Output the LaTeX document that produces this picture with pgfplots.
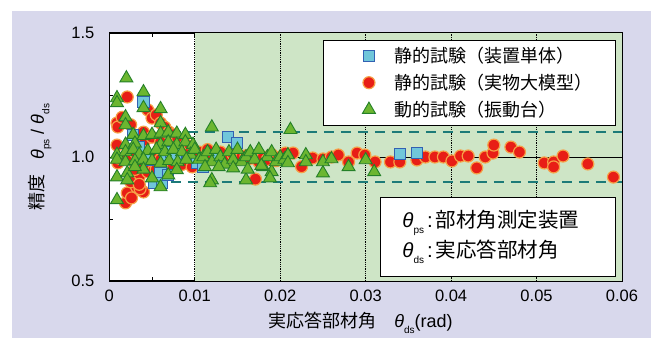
\documentclass[border=0pt]{standalone}
\usepackage{pgfplots}
\pgfplotsset{compat=1.18}
\usepackage{fontspec}
\setmainfont{Liberation Sans}
\newfontfamily\cjk{Noto Sans CJK JP}
\definecolor{bglav}{RGB}{216,216,236}
\definecolor{zonegreen}{RGB}{206,229,198}
\definecolor{dashteal}{RGB}{28,122,120}
\definecolor{redfill}{RGB}{232,30,22}
\definecolor{rededge}{RGB}{246,160,70}
\definecolor{sqfill}{RGB}{112,198,218}
\definecolor{sqedge}{RGB}{50,96,178}
\definecolor{trifill}{RGB}{108,182,48}
\definecolor{triedge}{RGB}{36,128,40}
\newcommand\sub[1]{\raisebox{-0.3em}{\fontsize{10}{10}\selectfont #1}}
\pgfplotsset{
 redpt/.style={only marks, mark=*, mark size=6pt, mark options={fill=redfill, draw=rededge, line width=1.2pt}},
 sqpt/.style={only marks, mark=square*, mark size=5.6pt, mark options={fill=sqfill, draw=sqedge, line width=1pt}},
 tript/.style={only marks, mark=triangle*, mark size=7.5pt, mark options={fill=trifill, draw=triedge, line width=0.9pt}},
}
\pgfplotstableread{
x y
0.0009 1.137
0.0010 1.121
0.0009 1.048
0.0010 0.976
0.0012 0.995
0.0021 1.242
0.0019 0.815
0.0021 0.855
0.0026 0.835
0.0030 0.935
0.0032 0.879
0.0040 0.859
0.0036 0.872
0.0042 1.069
0.0045 1.190
0.0050 1.157
0.0055 1.170
0.0060 1.137
0.0065 1.120
0.0070 1.100
0.0075 1.090
0.0080 1.075
0.0085 1.060
0.0090 1.050
0.0095 1.040
0.0035 0.920
0.0045 0.940
0.0055 0.950
0.0065 0.960
0.0075 0.965
0.0085 0.970
0.0097 0.960
0.0020 1.000
0.0030 1.020
0.0015 1.160
0.0025 1.130
0.0040 1.100
0.0050 1.080
0.0060 1.060
0.0030 0.950
0.0040 0.970
0.0050 1.000
0.0060 0.990
0.0070 1.000
0.0080 1.020
0.0090 1.010
0.0025 0.900
0.0035 0.890
0.0105 1.020
0.0110 1.000
0.0115 1.030
0.0120 0.990
0.0125 1.010
0.0130 1.020
0.0135 0.985
0.0140 1.000
0.0145 1.010
0.0150 0.990
0.0155 1.000
0.0160 1.005
0.0165 0.995
0.0171 0.911
0.0175 0.980
0.0180 1.000
0.0185 0.990
0.0190 1.010
0.0195 0.985
0.0200 1.000
0.0206 1.016
0.0215 1.016
0.0225 0.961
0.0238 0.996
0.0250 0.992
0.0260 1.000
0.0268 1.008
0.0280 0.980
0.0290 1.016
0.0299 1.008
0.0311 0.980
0.0329 0.980
0.0340 0.980
0.0360 0.988
0.0370 1.000
0.0381 1.000
0.0391 1.000
0.0401 0.984
0.0411 1.004
0.0420 1.004
0.0430 0.956
0.0440 1.000
0.0449 1.016
0.0450 1.048
0.0470 1.040
0.0480 1.020
0.0509 0.976
0.0520 0.980
0.0520 0.960
0.0531 1.004
0.0560 0.972
0.0590 0.919
}\redtab
\pgfplotstableread{
x y
0.0040 1.222
0.0028 1.089
0.0035 1.040
0.0045 0.990
0.0052 0.895
0.0060 0.935
0.0062 0.895
0.0069 0.927
0.0065 1.010
0.0072 1.020
0.0079 1.016
0.0078 1.000
0.0103 0.976
0.0110 0.960
0.0125 0.995
0.0139 1.080
0.0149 1.056
0.0340 1.012
0.0360 1.016
}\sqtab
\pgfplotstableread{
x y
0.0020 1.318
0.0040 1.262
0.0040 1.198
0.0009 1.238
0.0009 1.218
0.0060 1.194
0.0019 1.161
0.0019 1.129
0.0060 1.137
0.0028 1.090
0.0040 1.085
0.0050 1.090
0.0060 1.095
0.0069 1.100
0.0079 1.095
0.0089 1.090
0.0019 1.050
0.0030 1.055
0.0060 1.050
0.0069 1.060
0.0079 1.050
0.0089 1.060
0.0098 1.050
0.0009 1.010
0.0019 1.020
0.0028 1.030
0.0035 1.010
0.0045 1.025
0.0055 1.030
0.0065 1.020
0.0075 1.030
0.0085 1.020
0.0095 1.010
0.0009 0.990
0.0019 0.980
0.0030 0.985
0.0040 0.990
0.0050 0.985
0.0060 0.975
0.0070 0.985
0.0080 0.980
0.0090 0.990
0.0009 0.919
0.0021 0.935
0.0021 0.907
0.0009 0.827
0.0050 0.915
0.0060 0.879
0.0069 0.927
0.0079 0.948
0.0040 0.950
0.0030 0.960
0.0120 1.120
0.0120 0.907
0.0118 0.895
0.0160 0.907
0.0190 0.940
0.0188 0.915
0.0212 1.110
0.0100 1.030
0.0105 0.990
0.0110 1.000
0.0115 1.020
0.0120 0.980
0.0125 1.030
0.0130 1.000
0.0135 0.970
0.0140 1.020
0.0145 0.990
0.0150 1.030
0.0155 0.980
0.0160 1.000
0.0165 1.020
0.0170 0.990
0.0175 1.030
0.0180 0.960
0.0185 1.000
0.0190 1.020
0.0195 0.980
0.0200 1.000
0.0205 0.990
0.0112 0.960
0.0128 0.960
0.0145 0.955
0.0162 0.950
0.0178 0.965
0.0209 1.008
0.0209 0.976
0.0230 1.008
0.0230 0.980
0.0250 0.980
0.0250 0.935
0.0260 0.992
0.0280 0.960
0.0300 0.988
0.0310 0.940
}\tritab
\begin{document}
\begin{tikzpicture}
\fill[white] (-109.3pt,-57pt) rectangle (541.7pt,281pt);
\useasboundingbox (-109.3pt,-57pt) rectangle (541.7pt,281pt);
\fill[bglav] (-97.3pt,-57pt) rectangle (541.7pt,270pt);
\begin{axis}[
 at={(0,0)}, anchor=south west,
 scale only axis, width=512.7pt, height=248pt,
 xmin=0, xmax=0.06, ymin=0.5, ymax=1.5,
 scaled x ticks=false, scaled y ticks=false,
 xtick={0,0.01,0.02,0.03,0.04,0.05,0.06},
 xticklabels={0,0.01,0.02,0.03,0.04,0.05,0.06},
 ytick={0.5,1,1.5}, yticklabels={0.5,1.0,1.5},
 minor x tick num=1, minor y tick num=1,
 tick align=inside, major tick length=4pt, minor tick length=4pt,
 tick style={black, line width=0.8pt},
 axis line style={line width=1.2pt},
 axis background/.style={fill=white},
 ticklabel style={font=\fontsize{16.5}{18}\selectfont},
 xticklabel style={yshift=-5.5pt},
 yticklabel style={xshift=-11.5pt},
 xlabel={{\cjk 実応答部材角}\hspace{1em}\textit{θ}\sub{ds}(rad)},
 xlabel style={at={(axis description cs:0.49,-0.169)}, anchor=center, font=\fontsize{18}{20}\selectfont},
 ylabel={{\cjk 精度}\hspace{0.8em}\textit{θ}\sub{ps} / \textit{θ}\sub{ds}},
 ylabel style={at={(axis description cs:-0.135,0.5)}, anchor=center, font=\fontsize{18}{20}\selectfont},
 legend style={at={(0.988,0.972)}, anchor=north east, draw=black, line width=0.8pt, fill=white,
   font=\cjk\fontsize{18}{20}\selectfont, inner xsep=39pt, inner ysep=5pt, row sep=6pt, column sep=17pt,
   nodes={inner sep=2pt}},
 legend cell align=left,
]
\addplot[draw=none, fill=zonegreen, forget plot] coordinates {(0.01,0.5) (0.06,0.5) (0.06,1.5) (0.01,1.5)} -- cycle;
\addplot[black, densely dotted, line width=0.8pt, forget plot] coordinates {(0.01,0.5) (0.01,1.5)};
\addplot[black, densely dotted, line width=0.8pt, forget plot] coordinates {(0.02,0.5) (0.02,1.5)};
\addplot[black, densely dotted, line width=0.8pt, forget plot] coordinates {(0.03,0.5) (0.03,1.5)};
\addplot[black, densely dotted, line width=0.8pt, forget plot] coordinates {(0.04,0.5) (0.04,1.5)};
\addplot[black, densely dotted, line width=0.8pt, forget plot] coordinates {(0.05,0.5) (0.05,1.5)};
\addplot[black, line width=0.8pt, forget plot] coordinates {(0,1) (0.06,1)};
\addplot[dashteal, line width=2.2pt, dash pattern=on 10pt off 7pt, forget plot] coordinates {(0.0072,1.1) (0.06,1.1)};
\addplot[dashteal, line width=2.2pt, dash pattern=on 10pt off 7pt, forget plot] coordinates {(0.0072,0.9) (0.06,0.9)};
\addplot[redpt, forget plot] table[x=x,y=y] {\redtab};
\addplot[sqpt, forget plot] table[x=x,y=y] {\sqtab};
\addplot[tript, forget plot] table[x=x,y=y] {\tritab};
\addlegendimage{sqpt}
\addlegendentry{静的試験（装置単体）}
\addlegendimage{redpt}
\addlegendentry{静的試験（実物大模型）\kern-23pt\relax}
\addlegendimage{tript}
\addlegendentry{動的試験（振動台）}
\node[draw=black, line width=0.8pt, fill=white, anchor=north east, minimum width=235pt, minimum height=79pt,
  text width=191pt, align=left, inner xsep=22pt, font=\fontsize{20.5}{30}\selectfont]
  at (rel axis cs:0.988,0.339) {\textit{θ}\sub{ps}\hspace{3pt}:\hspace{3pt}{\cjk 部材角測定装置}\\ \textit{θ}\sub{ds}\hspace{3pt}:\hspace{3pt}{\cjk 実応答部材角}};
\end{axis}
\end{tikzpicture}
\end{document}
